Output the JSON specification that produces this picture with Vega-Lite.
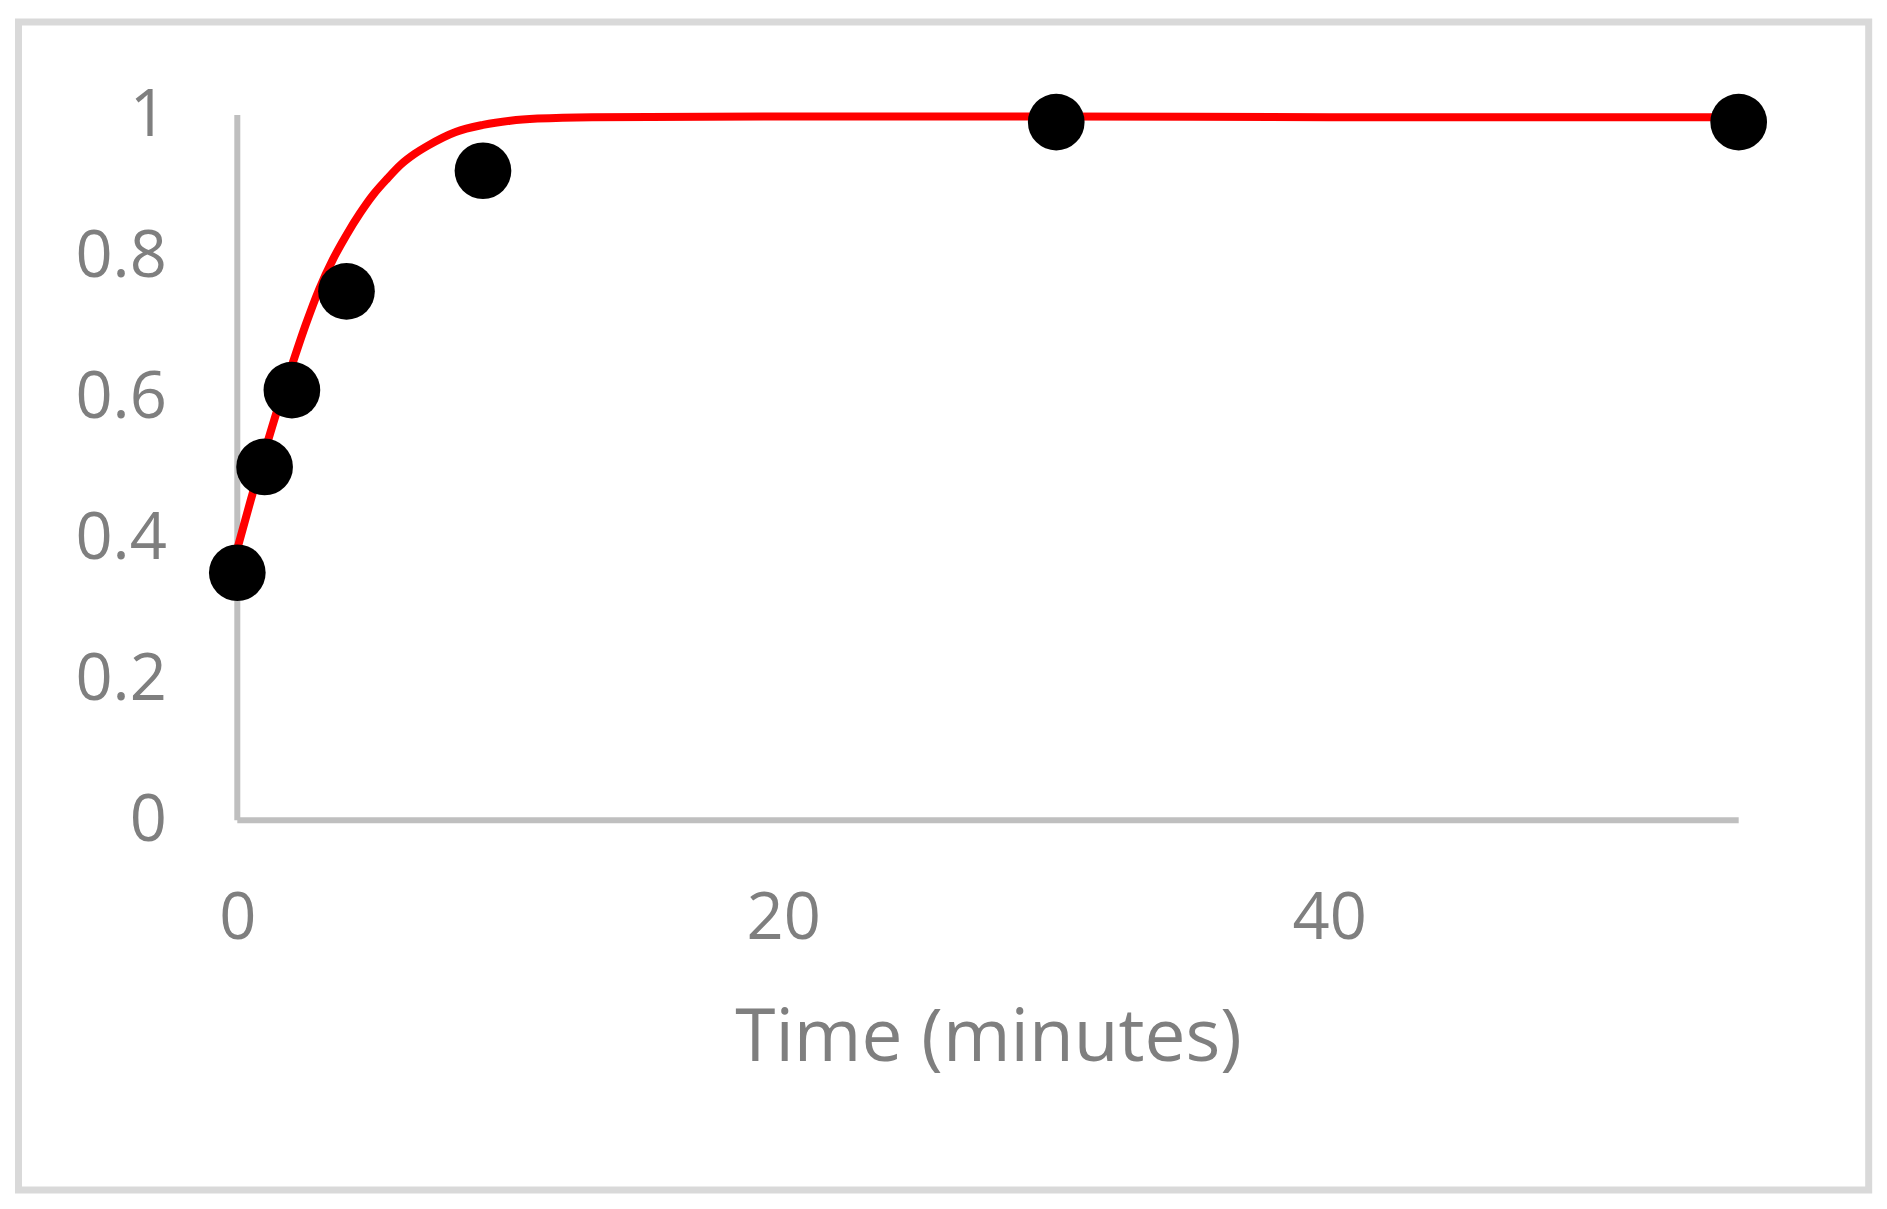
{
  "$schema": "https://vega.github.io/schema/vega-lite/v6.json",
  "autosize": {"type": "none"},
  "width": 1850.2,
  "height": 1168,
  "padding": {"left": 18.5, "top": 22, "right": 18.3, "bottom": 19},
  "background": "white",
  "config": {
    "view": {"stroke": "#d9d9d9", "strokeWidth": 7},
    "font": "Open Sans"
  },
  "datasets": {
    "points": [
      {"t": 0, "v": 0.351},
      {"t": 1, "v": 0.501},
      {"t": 2, "v": 0.61},
      {"t": 4, "v": 0.75},
      {"t": 9, "v": 0.921},
      {"t": 30, "v": 0.99},
      {"t": 55, "v": 0.99}
    ],
    "curve": [
      {"t": 0, "v": 0.385},
      {"t": 0.5, "v": 0.455},
      {"t": 1, "v": 0.522},
      {"t": 1.5, "v": 0.586},
      {"t": 2, "v": 0.645},
      {"t": 2.5, "v": 0.702},
      {"t": 3, "v": 0.753},
      {"t": 3.5, "v": 0.795},
      {"t": 4, "v": 0.83},
      {"t": 4.5, "v": 0.861},
      {"t": 5, "v": 0.888},
      {"t": 5.5, "v": 0.91},
      {"t": 6, "v": 0.93},
      {"t": 6.5, "v": 0.945},
      {"t": 7, "v": 0.957},
      {"t": 8, "v": 0.976},
      {"t": 9, "v": 0.986},
      {"t": 10, "v": 0.992},
      {"t": 11, "v": 0.995},
      {"t": 13, "v": 0.997},
      {"t": 20, "v": 0.998},
      {"t": 30, "v": 0.998},
      {"t": 40, "v": 0.997},
      {"t": 55, "v": 0.997}
    ],
    "axes": [
      {"t": 0, "t2": 0, "v": 0, "v2": 1},
      {"t": 0, "t2": 55, "v": 0, "v2": 0}
    ]
  },
  "layer": [
    {
      "data": {"name": "axes"},
      "mark": {"type": "rule", "color": "#bfbfbf", "strokeWidth": 6, "strokeCap": "butt"},
      "encoding": {
        "x": {
          "field": "t", "type": "quantitative",
          "scale": {"domain": [-8.015, 59.763], "nice": false, "zero": false},
          "axis": {
            "values": [0, 20, 40],
            "domain": false, "ticks": false, "grid": false,
            "offset": -369.7,
            "labelFont": "Open Sans", "labelFontSize": 65, "labelFontWeight": 500, "labelColor": "#7f7f7f",
            "labelPadding": 67, "labelFlush": false, "labelBaseline": "top",
            "title": "Time (minutes)",
            "titleFont": "Open Sans", "titleFontSize": 73, "titleFontWeight": 500,
            "titleColor": "#7f7f7f", "titleX": 969.5, "titleY": 240,
            "titleAlign": "center", "titleBaseline": "alphabetic"
          }
        },
        "x2": {"field": "t2"},
        "y": {
          "field": "v", "type": "quantitative",
          "scale": {"domain": [-0.5242, 1.1319], "nice": false, "zero": false},
          "axis": {
            "values": [0, 0.2, 0.4, 0.6, 0.8, 1],
            "format": "~g",
            "domain": false, "ticks": false, "grid": false,
            "offset": -218.8,
            "labelFont": "Open Sans", "labelFontSize": 65, "labelFontWeight": 500, "labelColor": "#7f7f7f",
            "labelPadding": 71, "labelFlush": false,
            "title": null
          }
        },
        "y2": {"field": "v2"}
      }
    },
    {
      "data": {"name": "curve"},
      "mark": {"type": "line", "color": "#ff0000", "strokeWidth": 8, "interpolate": "monotone"},
      "encoding": {
        "x": {"field": "t", "type": "quantitative"},
        "y": {"field": "v", "type": "quantitative"}
      }
    },
    {
      "data": {"name": "points"},
      "mark": {"type": "point", "shape": "circle", "filled": true, "color": "#000000", "opacity": 1, "size": 3215, "strokeWidth": 0},
      "encoding": {
        "x": {"field": "t", "type": "quantitative"},
        "y": {"field": "v", "type": "quantitative"}
      }
    }
  ]
}
